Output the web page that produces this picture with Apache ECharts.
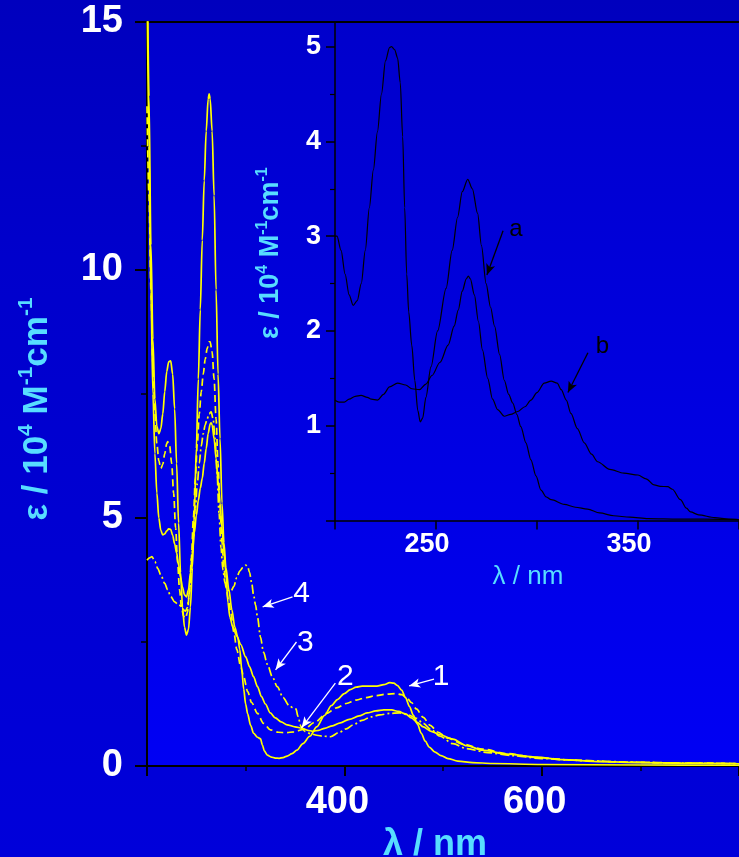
<!DOCTYPE html>
<html>
<head>
<meta charset="utf-8">
<script src="https://cdn.jsdelivr.net/npm/echarts@6/dist/echarts.min.js"></script>
<style>
  html, body { margin: 0; padding: 0; }
  #chart { width: 739px; height: 857px; background: linear-gradient(to bottom, #0000BE 0%, #0000CC 30%, #0000DA 100%); }
</style>
</head>
<body>
<div id="chart"></div>
<script>
// ---- Main spectra: wavelength (nm), epsilon (10^4 M^-1 cm^-1) ----
const curve1 = [[200,17],[202,13.5],[204,10.5],[206,8.6],[208,7.4],[210,6.85],[212,6.7],[214,6.8],[216,7.1],[218,7.55],[220,7.95],[222,8.15],[224,8.17],[226,7.9],[228,7.2],[230,6.1],[232,4.9],[234,3.9],[236,3.2],[238,2.8],[240,2.64],[242,2.75],[244,3.2],[246,4.0],[248,5.1],[250,6.4],[252,7.8],[254,9.2],[256,10.6],[258,11.8],[260,12.8],[262,13.45],[263,13.55],[264,13.45],[266,12.8],[268,11.5],[270,9.6],[272,7.9],[274,6.6],[276,5.3],[278,4.5],[280,4.0],[283,3.55],[286,3.15],[289,2.8],[292,2.6],[294,2.35],[296,1.95],[298,1.55],[300,1.25],[302,1.05],[305,0.82],[308,0.66],[312,0.58],[315,0.55],[317,0.42],[319,0.3],[322,0.22],[326,0.18],[330,0.16],[334,0.155],[338,0.17],[342,0.2],[347,0.25],[352,0.32],[358,0.45],[365,0.6],[372,0.79],[380,1.02],[387,1.22],[393,1.34],[400,1.46],[406,1.54],[412,1.59],[418,1.61],[425,1.61],[433,1.61],[440,1.64],[446,1.68],[450,1.67],[454,1.62],[458,1.53],[462,1.38],[466,1.2],[470,1.02],[474,0.85],[478,0.66],[482,0.5],[486,0.38],[492,0.28],[498,0.21],[505,0.15],[515,0.1],[530,0.07],[550,0.05],[600,0.03],[700,0.02],[800,0.015]];

const curve2 = [[200,13.3],[202,11.5],[204,9.6],[206,8.1],[208,7.1],[210,6.5],[212,6.15],[214,6.0],[216,6.08],[218,6.3],[220,6.5],[221,6.54],[223,6.45],[225,6.1],[227,5.5],[229,4.8],[231,4.1],[233,3.55],[235,3.2],[237,3.02],[239,2.98],[241,3.1],[243,3.5],[245,4.2],[247,5.0],[249,5.8],[251,6.5],[253,7.1],[255,7.55],[257,7.9],[259,8.2],[261,8.42],[263,8.55],[264,8.55],[266,8.35],[268,7.8],[270,7.0],[272,6.1],[274,5.2],[276,4.5],[278,4.0],[280,3.6],[283,3.3],[285,3.08],[288,2.7],[291,2.35],[295,2.0],[298,1.8],[302,1.5],[306,1.28],[312,1.06],[318,0.86],[325,0.73],[333,0.68],[341,0.67],[349,0.69],[359,0.74],[370,0.88],[382,1.06],[392,1.17],[402,1.26],[412,1.33],[422,1.38],[432,1.42],[443,1.45],[452,1.46],[458,1.44],[463,1.38],[468,1.28],[473,1.15],[480,0.98],[487,0.82],[495,0.68],[505,0.56],[520,0.44],[540,0.34],[565,0.25],[595,0.17],[630,0.12],[680,0.08],[740,0.06],[800,0.05]];

const curve3 = [[200,16],[202,12.5],[204,9.5],[206,7.5],[208,6.3],[210,5.5],[212,5.0],[214,4.75],[216,4.66],[218,4.68],[220,4.74],[222,4.78],[224,4.77],[226,4.65],[228,4.48],[230,4.3],[232,4.05],[234,3.8],[236,3.6],[238,3.45],[240,3.41],[242,3.55],[244,3.89],[246,4.3],[248,4.7],[250,5.05],[252,5.35],[254,5.6],[256,5.8],[258,6.1],[260,6.4],[262,6.7],[264,6.9],[265,6.92],[266,6.88],[268,6.6],[270,6.2],[272,5.75],[274,5.3],[276,4.8],[278,4.3],[280,3.9],[282,3.3],[284,3.0],[287,2.8],[291,2.62],[295,2.45],[300,2.2],[304,2.0],[308,1.8],[312,1.6],[316,1.4],[320,1.25],[325,1.07],[330,0.97],[336,0.89],[342,0.83],[350,0.79],[357,0.76],[363,0.72],[368,0.7],[374,0.72],[380,0.76],[388,0.81],[396,0.87],[405,0.94],[415,1.01],[423,1.07],[432,1.11],[440,1.13],[448,1.13],[455,1.1],[462,1.05],[468,0.97],[474,0.88],[480,0.79],[488,0.7],[497,0.63],[510,0.54],[524,0.41],[540,0.32],[565,0.24],[595,0.18],[620,0.13],[660,0.09],[700,0.07],[750,0.055],[800,0.045]];

const curve4 = [[200,4.15],[203,4.2],[205,4.22],[208,4.12],[211,3.98],[214,3.85],[218,3.68],[221,3.55],[224,3.42],[228,3.31],[232,3.25],[235,3.22],[237,3.15],[239,3.12],[241,3.2],[243,3.5],[245,4.0],[247,4.6],[249,5.2],[251,5.7],[253,6.1],[255,6.45],[257,6.7],[259,6.88],[261,7.0],[263,7.1],[265,7.14],[267,7.0],[269,6.6],[271,5.9],[273,5.1],[275,4.4],[277,3.95],[279,3.7],[282,3.55],[285,3.52],[288,3.62],[291,3.8],[294,3.93],[297,4.0],[300,4.05],[302,4.02],[304,3.9],[306,3.7],[308,3.45],[310,3.25],[312,3.0],[315,2.6],[318,2.3],[322,2.05],[327,1.8],[332,1.6],[338,1.38],[344,1.22],[348,1.17],[351,1.15],[353,1.0],[356,0.8],[360,0.7],[366,0.65],[372,0.62],[379,0.6],[386,0.59],[395,0.68],[402,0.75],[409,0.83],[418,0.92],[427,0.99],[436,1.03],[446,1.06],[456,1.07],[465,1.03],[473,0.96],[480,0.86],[488,0.73],[497,0.6],[510,0.45],[524,0.35],[545,0.27],[570,0.21],[600,0.15],[640,0.11],[690,0.08],[740,0.06],[800,0.045]];

// ---- Inset spectra ----
const insetA = [[200,3.0],[201,3.0],[203,2.85],[205,2.6],[207,2.38],[209,2.27],[211,2.32],[213,2.5],[215,2.85],[217,3.3],[219,3.7],[221,4.1],[223,4.5],[225,4.85],[227,4.99],[228,5.0],[229.5,4.97],[231,4.88],[232.3,4.62],[233.5,4.05],[234.5,3.3],[235.5,2.6],[236.5,2.2],[238,1.85],[239.5,1.48],[241,1.16],[242.2,1.04],[243.4,1.08],[245,1.3],[247.5,1.62],[250.8,2.0],[255,2.45],[258,2.85],[260.7,3.2],[263,3.47],[265.7,3.6],[268,3.5],[270.6,3.24],[272.5,2.9],[274.8,2.5],[277,2.25],[279,2.05],[281.5,1.75],[283.8,1.48],[286,1.33],[288,1.24],[290,1.12],[292,0.99],[294.5,0.82],[297,0.64],[299.5,0.47],[302,0.32],[304.5,0.25],[307,0.22],[313.5,0.17],[319,0.14],[325,0.12],[331,0.08],[338,0.05],[346,0.035],[355,0.02],[370,0.015],[400,0.01]];

const insetB = [[200,1.27],[202,1.25],[204.6,1.25],[207,1.28],[210,1.31],[212.9,1.32],[216,1.3],[218,1.28],[221,1.27],[224,1.33],[227,1.41],[231,1.45],[235,1.43],[238,1.39],[241.8,1.38],[245,1.44],[248,1.53],[252,1.67],[256,1.85],[259,2.05],[261,2.22],[263,2.42],[265,2.55],[266,2.58],[267,2.55],[269,2.38],[271,2.1],[273,1.8],[275.6,1.5],[278,1.28],[280.5,1.17],[283.8,1.1],[287,1.12],[290.4,1.15],[294,1.2],[297,1.27],[300,1.35],[303.6,1.45],[307,1.47],[310,1.45],[312,1.38],[314.5,1.27],[316.8,1.13],[320,0.97],[323.4,0.82],[327,0.7],[330,0.62],[336,0.54],[343,0.5],[350,0.48],[354,0.44],[358,0.375],[361,0.36],[364.7,0.357],[367,0.33],[371,0.22],[374,0.13],[376,0.09],[380,0.06],[388,0.03],[395,0.015],[400,0.01]];

// ---- Tick labels ----
const mainXLabels = [400, 600];
const mainYLabels = [0, 5, 10, 15];
const insetXLabels = [250, 350];
const insetYLabels = [1, 2, 3, 4, 5];

// ---- Curve annotations: label text, label position, arrow tail, arrow head ----
const mainNotes = [
  { text: '1', at: [498, 1.79], from: [490.9, 1.754], to: [465.7, 1.613] },
  { text: '2', at: [401, 1.79], from: [390.9, 1.67], to: [356.6, 0.77] },
  { text: '3', at: [360.6, 2.49], from: [351.5, 2.5], to: [330.3, 1.94] },
  { text: '4', at: [356.6, 3.47], from: [347.5, 3.41], to: [317.2, 3.21] }
];
const insetNotes = [
  { text: 'a', at: [289.6, 3.07], from: [283.2, 3.057], to: [275.2, 2.59] },
  { text: 'b', at: [332.4, 1.84], from: [325.2, 1.77], to: [315.3, 1.35] }
];

const FONT = '"Liberation Sans", Arial, sans-serif';
const CYAN = '#57DDFF';
const YELLOW = '#FFFF00';

const chart = echarts.init(document.getElementById('chart'), null, { renderer: 'canvas' });

function arrowLines(notes, color) {
  return {
    silent: true,
    symbol: ['none', 'arrow'],
    symbolSize: [7, 11],
    lineStyle: { color: color, width: 1.3, type: 'solid' },
    label: { show: false },
    animation: false,
    data: notes.map(n => [{ coord: n.from }, { coord: n.to }])
  };
}
function noteLabels(notes, color, size) {
  return {
    silent: true,
    symbol: 'circle',
    symbolSize: 1,
    itemStyle: { color: 'rgba(0,0,0,0)' },
    animation: false,
    label: {
      show: true, position: 'inside', color: color,
      fontFamily: FONT, fontSize: size, fontWeight: 'normal',
      formatter: p => p.name
    },
    data: notes.map(n => ({ name: n.text, coord: n.at }))
  };
}

const plotFill = new echarts.graphic.LinearGradient(0, 0, 0, 1, [
  { offset: 0, color: '#0000CC' },
  { offset: 1, color: '#0000F4' }
]);

function spectrum(name, data, xi, yi, style) {
  return {
    name: name, type: 'line', xAxisIndex: xi, yAxisIndex: yi, data: data,
    showSymbol: false, smooth: 0.3, smoothMonotone: 'x', clip: true,
    lineStyle: style
  };
}

const option = {
  animation: false,
  backgroundColor: 'transparent',
  grid: [
    { left: 147, top: 22, right: 0, bottom: 91, show: true, backgroundColor: plotFill, borderWidth: 0, outerBoundsMode: 'none', containLabel: false },
    { left: 335, top: 22, right: 0, bottom: 336.5, show: false, outerBoundsMode: 'none', containLabel: false }
  ],
  xAxis: [
    {
      gridIndex: 0, type: 'value', min: 200, max: 800, interval: 200,
      axisLine: { show: true, onZero: false, lineStyle: { color: '#000', width: 2 } },
      axisTick: { show: true, inside: false, length: 10, lineStyle: { color: '#000', width: 2 } },
      minorTick: { show: true, splitNumber: 2, length: 5, lineStyle: { color: '#000', width: 1.5 } },
      splitLine: { show: false },
      axisLabel: {
        color: '#fff', fontFamily: FONT, fontSize: 38, fontWeight: 'bold', margin: 18,
        padding: [0, 14, 0, 0],
        formatter: v => mainXLabels.includes(v) ? String(v) : ''
      },
      name: 'λ / nm', nameLocation: 'middle', nameGap: 46,
      nameTextStyle: { color: CYAN, fontFamily: FONT, fontSize: 36, fontWeight: 'bold', padding: [0, 16, 0, 0] }
    },
    {
      gridIndex: 0, type: 'value', min: 200, max: 800, position: 'top',
      axisLine: { show: true, onZero: false, lineStyle: { color: '#000', width: 2 } },
      axisTick: { show: false }, axisLabel: { show: false }, splitLine: { show: false }
    },
    {
      gridIndex: 1, type: 'value', min: 200, max: 400, interval: 50,
      axisLine: { show: true, onZero: false, lineStyle: { color: '#000', width: 1.5 } },
      axisTick: { show: true, inside: false, length: 9, lineStyle: { color: '#000', width: 1.5 } },
      splitLine: { show: false },
      axisLabel: {
        color: '#fff', fontFamily: FONT, fontSize: 27, fontWeight: 'bold', margin: 11,
        padding: [0, 18, 0, 0],
        formatter: v => insetXLabels.includes(v) ? String(v) : ''
      },
      name: 'λ / nm', nameLocation: 'middle', nameGap: 41,
      nameTextStyle: { color: CYAN, fontFamily: FONT, fontSize: 26, fontWeight: 'normal', padding: [0, 18, 0, 0] }
    }
  ],
  yAxis: [
    {
      gridIndex: 0, type: 'value', min: 0, max: 15, interval: 5,
      axisLine: { show: true, onZero: false, lineStyle: { color: '#000', width: 2 } },
      axisTick: { show: true, inside: false, length: 12, lineStyle: { color: '#000', width: 2 } },
      minorTick: { show: true, splitNumber: 2, length: 6, lineStyle: { color: '#000', width: 1.5 } },
      splitLine: { show: false },
      axisLabel: {
        color: '#fff', fontFamily: FONT, fontSize: 38, fontWeight: 'bold', margin: 24,
        formatter: v => mainYLabels.includes(v) ? String(v) : ''
      },
      name: 'ε / 10{s|4} M{s|-1}cm{s|-1}', nameLocation: 'middle', nameGap: 89,
      nameTextStyle: {
        color: CYAN, fontFamily: FONT, fontSize: 35, fontWeight: 'bold', lineHeight: 42,
        padding: [0, 30, 0, 0],
        rich: { s: { color: CYAN, fontFamily: FONT, fontSize: 21, fontWeight: 'bold', verticalAlign: 'top', lineHeight: 22 } }
      }
    },
    {
      gridIndex: 1, type: 'value', min: 0, max: 5.26, interval: 1,
      axisLine: { show: true, onZero: false, lineStyle: { color: '#000', width: 1.5 } },
      axisTick: { show: true, inside: false, length: 9, lineStyle: { color: '#000', width: 1.5 } },
      minorTick: { show: true, splitNumber: 2, length: 5, lineStyle: { color: '#000', width: 1.2 } },
      splitLine: { show: false },
      axisLabel: {
        color: '#fff', fontFamily: FONT, fontSize: 27, fontWeight: 'bold', margin: 14,
        showMaxLabel: false,
        formatter: v => insetYLabels.includes(v) ? String(v) : ''
      },
      name: 'ε / 10{s|4} M{s|-1}cm{s|-1}', nameLocation: 'middle', nameGap: 48,
      nameTextStyle: {
        color: CYAN, fontFamily: FONT, fontSize: 27, fontWeight: 'bold', lineHeight: 32,
        padding: [0, 0, 0, 36],
        rich: { s: { color: CYAN, fontFamily: FONT, fontSize: 16, fontWeight: 'bold', verticalAlign: 'top', lineHeight: 16 } }
      }
    }
  ],
  series: [
    Object.assign(spectrum('curve1', curve1, 0, 0, { color: YELLOW, width: 1.7, type: 'solid' }), {
      markLine: arrowLines(mainNotes, '#ffffff'),
      markPoint: noteLabels(mainNotes, '#ffffff', 30)
    }),
    spectrum('curve2', curve2, 0, 0, { color: YELLOW, width: 1.7, type: [7, 4] }),
    spectrum('curve3', curve3, 0, 0, { color: YELLOW, width: 1.7, type: 'solid' }),
    spectrum('curve4', curve4, 0, 0, { color: YELLOW, width: 1.7, type: [9, 3, 2, 3] }),
    Object.assign(spectrum('a', insetA, 2, 1, { color: '#000', width: 1.2 }), {
      markLine: arrowLines(insetNotes, '#000000'),
      markPoint: noteLabels(insetNotes, '#000000', 24)
    }),
    spectrum('b', insetB, 2, 1, { color: '#000', width: 1.2 })
  ]
};

chart.setOption(option);
</script>
</body>
</html>
